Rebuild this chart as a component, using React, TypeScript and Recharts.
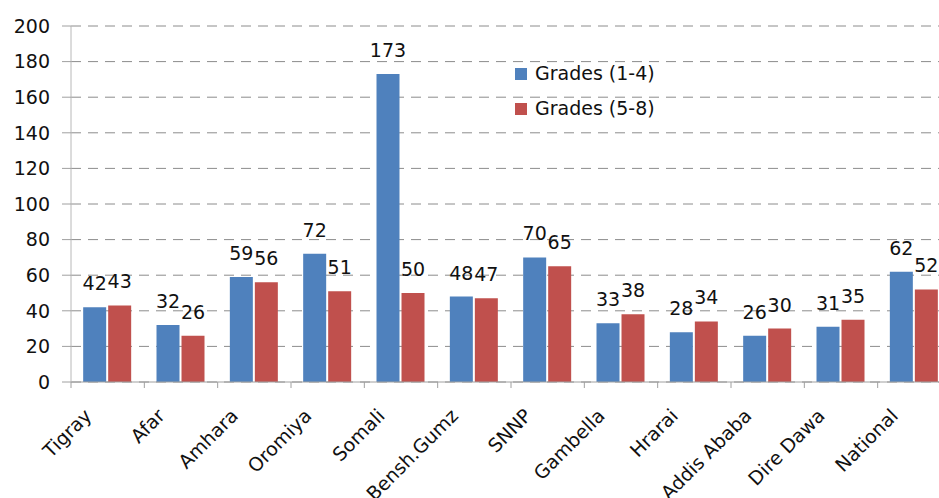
import React from "react";
import { BarChart, Bar, XAxis, YAxis, CartesianGrid, LabelList } from "recharts";

const categories = ["Tigray", "Afar", "Amhara", "Oromiya", "Somali", "Bensh.Gumz", "SNNP", "Gambella", "Hrarai", "Addis Ababa", "Dire Dawa", "National"];
const grades14 = [42, 32, 59, 72, 173, 48, 70, 33, 28, 26, 31, 62];
const grades58 = [43, 26, 56, 51, 50, 47, 65, 38, 34, 30, 35, 52];
const seriesNames = ["Grades (1-4)", "Grades (5-8)"];
const seriesColors = ["#4F81BD", "#C0504D"];
const yTicks = [0, 20, 40, 60, 80, 100, 120, 140, 160, 180, 200];

const data = categories.map((c, i) => ({ name: c, g14: grades14[i], g58: grades58[i] }));

const CHART_W = 960;
const CHART_H = 498;
const MARGIN = { top: 26, right: 9, left: 11, bottom: 6 };
const Y_W = 60;
const X_H = 110;
const PLOT_W = CHART_W - MARGIN.left - MARGIN.right - Y_W;
const STEP = PLOT_W / categories.length;
const FONT = "DejaVu Sans";

const XTick = (props: any) => {
  const { x, y, payload } = props;
  const bx = x - STEP / 2;
  return (
    <g>
      <line x1={bx} y1={y - 8} x2={bx} y2={y - 2} stroke="#a0a0a0" strokeWidth={1} />
      <text
        x={0}
        y={0}
        transform={`translate(${x - 15},${y + 27}) rotate(-45)`}
        textAnchor="end"
        fontSize={19}
        fontFamily={FONT}
        fill="#111"
      >
        {payload.value}
      </text>
    </g>
  );
};

const LegendBox = () => (
  <div style={{ position: "absolute", left: 515, top: 56, fontFamily: FONT, fontSize: 19, color: "#111", lineHeight: "35px" }}>
    {seriesNames.map((n, i) => (
      <div key={n} style={{ display: "flex", alignItems: "center", height: 35 }}>
        <span style={{ display: "inline-block", width: 12, height: 12, background: seriesColors[i], marginRight: 8 }} />
        <span>{n}</span>
      </div>
    ))}
  </div>
);

export default function App() {
  return (
    <div style={{ position: "absolute", left: 0, top: 0, width: 939, height: 498, overflow: "hidden", background: "#fff" }}>
      <BarChart
        width={CHART_W}
        height={CHART_H}
        data={data}
        margin={MARGIN}
        barCategoryGap="16.6%"
        barGap={2}
        style={{ fontFamily: FONT }}
      >
        <CartesianGrid vertical={false} stroke="#8c8c8c" strokeDasharray="10 7" />
        <XAxis
          dataKey="name"
          height={X_H}
          tick={<XTick />}
          tickLine={false}
          tickSize={6}
          tickMargin={2}
          interval={0}
          axisLine={{ stroke: "#a0a0a0" }}
        />
        <YAxis
          width={Y_W}
          domain={[0, 200]}
          ticks={yTicks}
          tickSize={9}
          tickMargin={12}
          tickLine={{ stroke: "#a0a0a0" }}
          axisLine={{ stroke: "#b8b8b8" }}
          tick={{ fill: "#111", fontSize: 19, fontFamily: FONT }}
        />
        <Bar dataKey="g14" name={seriesNames[0]} fill={seriesColors[0]} isAnimationActive={false}>
          <LabelList dataKey="g14" position="top" offset={17} fill="#111" fontSize={19} fontFamily={FONT} />
        </Bar>
        <Bar dataKey="g58" name={seriesNames[1]} fill={seriesColors[1]} isAnimationActive={false}>
          <LabelList dataKey="g58" position="top" offset={17} fill="#111" fontSize={19} fontFamily={FONT} />
        </Bar>
      </BarChart>
      <LegendBox />
    </div>
  );
}
